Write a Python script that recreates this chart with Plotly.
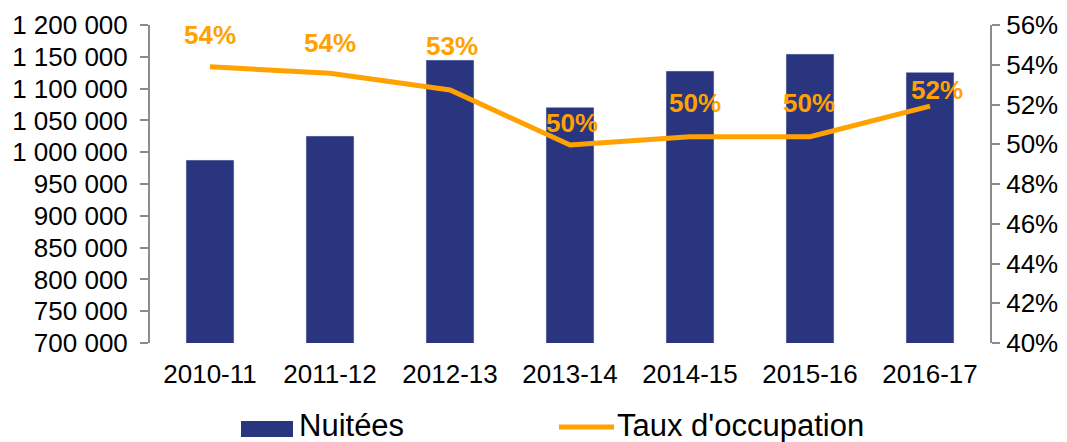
import plotly.graph_objects as go

categories = ["2010-11", "2011-12", "2012-13", "2013-14", "2014-15", "2015-16", "2016-17"]
nuitees = [987700, 1025500, 1145000, 1070600, 1127700, 1154400, 1125600]
taux = [53.9, 53.57, 52.73, 49.96, 50.38, 50.38, 51.92]
taux_labels = ["54%", "54%", "53%", "50%", "50%", "50%", "52%"]

# label offsets (px) – styling only
label_dx = [0, 0, 2, 2, 5, -1, 7]
label_dy = [32, 30, 44, 22, 34, 34, 16]

NAVY = "#2A3580"
ORANGE = "#FFA200"
FONT = "Liberation Sans, Arial, sans-serif"
AXIS = "#8C8C8C"

# page offset (default body margin) and figure size
OFF = 8
FW, FH = 1067 - OFF, 442 - OFF
# plot area in viewport pixels
VL, VT, W, H = 150, 25, 840, 318
L, T = VL - OFF, VT - OFF

fig = go.Figure()
fig.add_trace(go.Bar(x=categories, y=nuitees, name="Nuitées", marker_color=NAVY,
                     width=0.4, yaxis="y", showlegend=False))
fig.add_trace(go.Scatter(x=categories, y=taux, name="Taux d'occupation", mode="lines",
                         line=dict(color=ORANGE, width=5), yaxis="y2", showlegend=False))

annotations = []
for c, v, t, dx, dy in zip(categories, taux, taux_labels, label_dx, label_dy):
    annotations.append(dict(x=c, y=v, xref="x", yref="y2", text="<b>%s</b>" % t,
                            showarrow=False, xshift=dx, yshift=dy,
                            font=dict(family=FONT, size=26, color=ORANGE)))

def px(x):
    return (x - VL) / W
def py(y):
    return (VT + H - y) / H

shapes = [
    dict(type="rect", xref="paper", yref="paper", x0=px(241), x1=px(293), y0=py(437), y1=py(421),
         fillcolor=NAVY, line=dict(width=0)),
    dict(type="line", xref="paper", yref="paper", x0=px(559), x1=px(614), y0=py(427), y1=py(427),
         line=dict(color=ORANGE, width=5)),
]
annotations.append(dict(x=px(297), y=py(425), xref="paper", yref="paper", text="Nuitées",
                        showarrow=False, xanchor="left", yanchor="middle",
                        font=dict(family=FONT, size=31, color="black")))
annotations.append(dict(x=px(615), y=py(425), xref="paper", yref="paper", text="Taux d'occupation",
                        showarrow=False, xanchor="left", yanchor="middle",
                        font=dict(family=FONT, size=31, color="black")))

fig.update_layout(
    width=FW, height=FH,
    margin=dict(l=L, r=FW - L - W, t=T, b=FH - T - H, autoexpand=False),
    paper_bgcolor="white", plot_bgcolor="white",
    separators=". ",
    font=dict(family=FONT, size=26, color="black"),
    xaxis=dict(type="category", showgrid=False, showline=False, ticks="",
               ticklabelstandoff=13, tickfont=dict(size=26)),
    yaxis=dict(range=[700000, 1200000], dtick=50000, tickformat=",d", showgrid=False,
               showline=True, linecolor=AXIS, linewidth=2, ticks="outside", ticklen=8,
               tickcolor=AXIS, tickwidth=2, zeroline=False, ticklabelstandoff=7,
               tickfont=dict(size=26)),
    yaxis2=dict(range=[40, 56], dtick=2, ticksuffix="%", overlaying="y", side="right",
                showgrid=False, showline=True, linecolor=AXIS, linewidth=2, ticks="outside",
                ticklen=8, tickcolor=AXIS, tickwidth=2, zeroline=False, ticklabelstandoff=1,
                tickfont=dict(size=26)),
    annotations=annotations,
    shapes=shapes,
    bargap=0.6,
)

fig.write_html("out.html")
